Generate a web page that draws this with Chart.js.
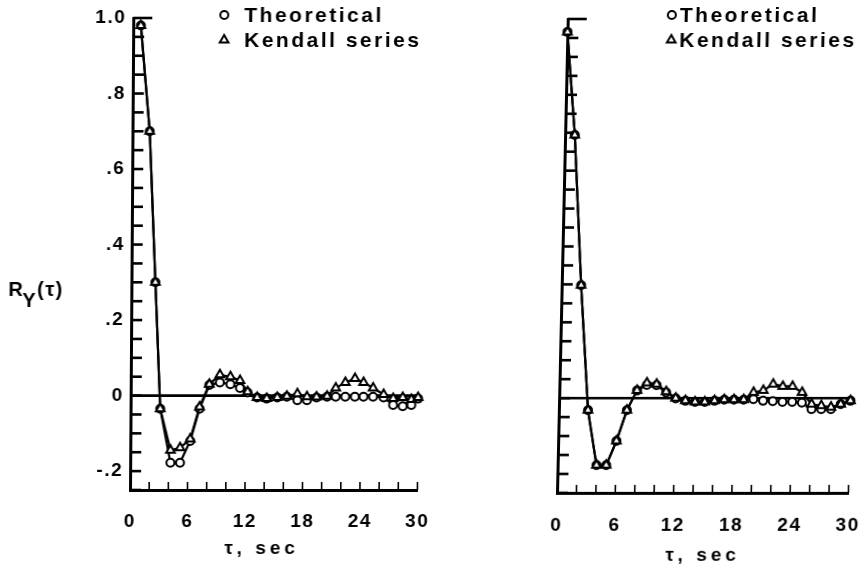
<!DOCTYPE html>
<html>
<head>
<meta charset="utf-8">
<script src="https://cdn.jsdelivr.net/npm/chart.js@4/dist/chart.umd.min.js"></script>
<style>
  html, body { margin: 0; padding: 0; background: #fff; width: 864px; height: 571px; overflow: hidden; position: relative; }
  .panel { position: absolute; top: 0; width: 440px; height: 571px; }
  #leftPanel { left: 0; }
  #rightPanel { left: 432px; }
  canvas { display: block; }
  /* the printed axes lean slightly */
  #cLeft { transform: skewX(-0.4deg); transform-origin: 130px 490px; }
  #cRight { transform: skewX(-1.3deg); transform-origin: 125px 493px; }
</style>
</head>
<body>
<div class="panel" id="leftPanel"><canvas id="cLeft" width="440" height="571"></canvas></div>
<div class="panel" id="rightPanel"><canvas id="cRight" width="440" height="571"></canvas></div>
<script>
// Lag tau (sec) and autocorrelation values, left panel
const tauLeft = [0.8, 1.8, 2.5, 3.1, 4.2, 5.2, 6.25, 7.2, 8.2, 9.3, 10.4, 11.4, 12.2, 13.2, 14.2, 15.3,
  16.3, 17.4, 18.4, 19.4, 20.5, 21.4, 22.4, 23.4, 24.3, 25.3, 26.4, 27.4, 28.4, 29.3, 30.0];
const theoreticalLeft = [0.98, 0.70, 0.30, -0.035, -0.178, -0.178, -0.12, -0.035, 0.028, 0.035, 0.03, 0.02,
  0.008, -0.005, -0.008, -0.005, -0.003, -0.012, -0.012, -0.005, -0.003, -0.003, -0.003, -0.003, -0.003,
  -0.003, -0.005, -0.025, -0.028, -0.025, -0.008];
const kendallLeft = [0.98, 0.70, 0.30, -0.035, -0.145, -0.138, -0.115, -0.03, 0.03, 0.055, 0.05, 0.04,
  0.01, -0.005, -0.008, -0.005, -0.002, 0.005, -0.003, -0.004, -0.002, 0.02, 0.035, 0.045, 0.035,
  0.02, 0.003, -0.008, -0.005, -0.01, -0.005];

// Right panel
const tauRight = [0, 1, 2, 3, 4, 5, 6, 7, 8, 9, 10, 11, 12, 13, 14, 15, 16, 17, 18, 19, 20,
  21, 22, 23, 24, 25, 26, 27, 28, 29, 30];
const theoreticalRight = [0.966, 0.694, 0.298, -0.032, -0.177, -0.177, -0.113, -0.032, 0.02, 0.035, 0.034,
  0.015, -0.001, -0.007, -0.01, -0.01, -0.007, -0.004, -0.004, -0.004, -0.003, -0.007, -0.008, -0.01,
  -0.01, -0.012, -0.029, -0.029, -0.029, -0.016, -0.007];
const kendallRight = [0.966, 0.694, 0.298, -0.032, -0.177, -0.177, -0.113, -0.032, 0.02, 0.04, 0.037,
  0.017, 0.0, -0.007, -0.01, -0.01, -0.007, -0.004, -0.004, -0.004, 0.015, 0.02, 0.037, 0.031, 0.031,
  0.015, -0.016, -0.02, -0.024, -0.016, -0.007];

// Axis tick labels
const xTickValues = [0, 6, 12, 18, 24, 30];
const xTickLabels = ['0', '6', '12', '18', '24', '30'];
const yTickValues = [-0.2, 0, 0.2, 0.4, 0.6, 0.8, 1.0];
const yTickLabels = ['-.2', '0', '.2', '.4', '.6', '.8', '1.0'];

const seriesNames = ['Theoretical', 'Kendall series'];
const xTitle = 'τ, sec';

const FONT = '"Liberation Sans", Arial, Helvetica, sans-serif';

function xLabel(v) {
  const i = xTickValues.findIndex(t => Math.abs(t - v) < 1e-6);
  return i >= 0 ? xTickLabels[i] : '';
}
function yLabel(v) {
  const i = yTickValues.findIndex(t => Math.abs(t - v) < 1e-6);
  return i >= 0 ? yTickLabels[i] : '';
}

function drawMarker(ctx, kind, x, y) {
  ctx.save();
  ctx.lineWidth = 2;
  ctx.strokeStyle = '#000';
  ctx.fillStyle = '#fff';
  ctx.beginPath();
  if (kind === 'circle') {
    ctx.arc(x, y, 4, 0, Math.PI * 2);
  } else {
    const r = 5;
    ctx.moveTo(x, y - r);
    ctx.lineTo(x + r * 0.866, y + r * 0.5);
    ctx.lineTo(x - r * 0.866, y + r * 0.5);
    ctx.closePath();
  }
  ctx.fill();
  ctx.stroke();
  ctx.restore();
}

// Inward tick marks, zero reference line, legend and titles
const decorations = {
  id: 'decorations',
  beforeDraw(chart) {
    chart.ctx.letterSpacing = '1.5px';
  },
  beforeDatasetsDraw(chart, args, o) {
    const { ctx, chartArea: a, scales: { x, y } } = chart;
    ctx.save();
    ctx.strokeStyle = '#000';
    ctx.lineCap = 'butt';
    // zero line
    ctx.lineWidth = 2.6;
    const y0 = y.getPixelForValue(0);
    ctx.beginPath();
    ctx.moveTo(a.left, y0);
    ctx.lineTo(a.right, y0);
    ctx.stroke();
    // y ticks every 0.05, pointing into the plot
    ctx.lineWidth = 2.6;
    y.ticks.forEach(t => {
      const py = y.getPixelForValue(t.value);
      const len = Math.abs(t.value - 1) < 1e-6 ? 19 : 11;
      ctx.beginPath();
      ctx.moveTo(a.left, py);
      ctx.lineTo(a.left + len, py);
      ctx.stroke();
    });
    // x ticks every 2 s, pointing up
    ctx.lineWidth = 1.6;
    x.ticks.forEach(t => {
      if (t.value === 0) return;
      const px = x.getPixelForValue(t.value);
      ctx.beginPath();
      ctx.moveTo(px, a.bottom);
      ctx.lineTo(px, a.bottom - 8);
      ctx.stroke();
    });
    ctx.restore();
  },
  afterDraw(chart, args, o) {
    const ctx = chart.ctx;
    ctx.save();
    ctx.fillStyle = '#000';
    // legend
    ctx.font = 'bold 21px ' + FONT;
    ctx.letterSpacing = '2.5px';
    ctx.textBaseline = 'middle';
    ctx.textAlign = 'left';
    drawMarker(ctx, 'circle', o.legendMarkX, o.legendY1);
    ctx.fillText(seriesNames[0], o.legendTextX, o.legendY1 + 1);
    drawMarker(ctx, 'triangle', o.legendMarkX, o.legendY2);
    ctx.fillText(seriesNames[1], o.legendTextX, o.legendY2 + 1);
    // x-axis title
    ctx.font = 'bold 19px ' + FONT;
    ctx.letterSpacing = '4px';
    ctx.textAlign = 'center';
    ctx.fillText(xTitle, o.xTitleX, o.xTitleY);
    // y-axis title R_Y(τ)
    if (o.yTitle) {
      ctx.textAlign = 'left';
      ctx.textBaseline = 'alphabetic';
      ctx.letterSpacing = '1.5px';
      ctx.font = 'bold 20px ' + FONT;
      let xx = 7;
      ctx.fillText('R', xx, 296);
      xx += ctx.measureText('R').width;
      ctx.fillText('Y', xx - 2, 307);
      xx += ctx.measureText('Y').width - 2;
      ctx.fillText('(τ)', xx, 296);
    }
    ctx.restore();
  }
};

function makePanel(canvasId, tau, theo, kendall, cfg) {
  const pts = ys => tau.map((t, i) => ({ x: t, y: ys[i] }));
  const common = {
    borderColor: '#000', borderWidth: 2.2, tension: 0, clip: false,
    pointBackgroundColor: '#fff', pointBorderColor: '#000', pointBorderWidth: 2
  };
  return new Chart(document.getElementById(canvasId), {
    type: 'line',
    data: {
      datasets: [
        Object.assign({ label: seriesNames[1], data: pts(kendall), pointStyle: 'triangle', pointRadius: 5, order: 0 }, common),
        Object.assign({ label: seriesNames[0], data: pts(theo), pointStyle: 'circle', pointRadius: 4, order: 1 }, common)
      ]
    },
    options: {
      responsive: false,
      animation: false,
      devicePixelRatio: 1,
      layout: { padding: { left: 0, right: cfg.padRight, top: cfg.padTop, bottom: 0 } },
      plugins: {
        legend: { display: false },
        tooltip: { enabled: false },
        decorations: cfg.deco
      },
      scales: {
        x: {
          type: 'linear', min: 0, max: 30,
          afterFit(s) { s.height = cfg.xHeight; },
          grid: { display: false },
          border: { display: true, color: '#000', width: 3 },
          ticks: {
            stepSize: 2, autoSkip: false, maxRotation: 0, padding: cfg.xPad,
            color: '#000', font: { family: FONT, size: 19, weight: 'bold' },
            callback: v => xLabel(v)
          }
        },
        y: {
          type: 'linear', min: -0.25, max: 1.0,
          afterFit(s) { s.width = cfg.yWidth; },
          grid: { display: false },
          border: { display: true, color: '#000', width: 3 },
          ticks: {
            stepSize: 0.05, autoSkip: false, display: cfg.yLabels, padding: -1,
            color: '#000', font: { family: FONT, size: 19, weight: 'bold' },
            callback: v => yLabel(v)
          }
        }
      }
    },
    plugins: [decorations]
  });
}

makePanel('cLeft', tauLeft, theoreticalLeft, kendallLeft, {
  padRight: 6, padTop: 18, xHeight: 81, yWidth: 130, xPad: 12, yLabels: true,
  deco: { legendMarkX: 221, legendTextX: 241, legendY1: 15, legendY2: 40, xTitleX: 262, xTitleY: 549, yTitle: true }
});

makePanel('cRight', tauRight, theoreticalRight, kendallRight, {
  padRight: 10, padTop: 19, xHeight: 78, yWidth: 125, xPad: 13, yLabels: false,
  deco: { legendMarkX: 229, legendTextX: 237, legendY1: 15, legendY2: 40, xTitleX: 272, xTitleY: 556, yTitle: false }
});
</script>
</body>
</html>
